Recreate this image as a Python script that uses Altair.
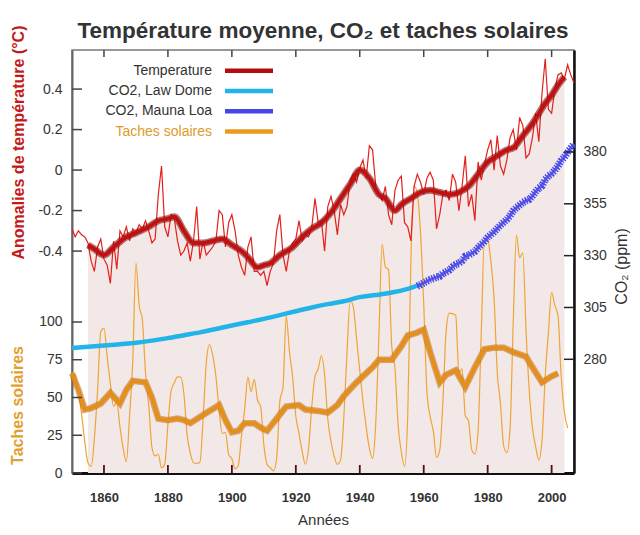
import altair as alt
import pandas as pd

# ---------------- data ----------------
temp_years = list(range(1850, 2008))
temp_annual = [
    -0.29, -0.33, -0.30, -0.32, -0.33, -0.36, -0.45, -0.50, -0.38, -0.34,
    -0.44, -0.47, -0.56, -0.35, -0.49, -0.30, -0.33, -0.28, -0.35, -0.29,
    -0.31, -0.27, -0.29, -0.25, -0.30, -0.36, -0.34, -0.12, 0.02, -0.28,
    -0.33, -0.22, -0.24, -0.35, -0.42, -0.40, -0.36, -0.45, -0.35, -0.18,
    -0.44, -0.35, -0.42, -0.40, -0.38, -0.35, -0.20, -0.22, -0.38, -0.26,
    -0.22, -0.30, -0.42, -0.48, -0.52, -0.38, -0.33, -0.50, -0.50, -0.52,
    -0.50, -0.57, -0.50, -0.46, -0.30, -0.22, -0.42, -0.50, -0.40, -0.36,
    -0.34, -0.25, -0.35, -0.32, -0.33, -0.28, -0.14, -0.26, -0.25, -0.40,
    -0.18, -0.13, -0.20, -0.32, -0.17, -0.22, -0.18, -0.05, -0.02, -0.06,
    0.01, 0.05, -0.04, 0.12, 0.10, -0.08, -0.12, -0.15, -0.08, -0.22,
    -0.27, -0.10, -0.05, -0.03, -0.26, -0.28, -0.35, -0.08, -0.02, -0.06,
    -0.12, -0.04, -0.01, -0.05, -0.29, -0.22, -0.12, -0.10, -0.15, -0.02,
    -0.06, -0.20, -0.08, 0.07, -0.18, -0.12, -0.25, 0.04, -0.05, 0.03,
    0.10, 0.15, 0.00, 0.17, 0.02, -0.02, 0.05, 0.16, 0.20, 0.10,
    0.26, 0.22, 0.06, 0.08, 0.16, 0.28, 0.14, 0.38, 0.55, 0.30,
    0.28, 0.40, 0.47, 0.48, 0.45, 0.52, 0.47, 0.43,
]
temp_smooth_years = [1855, 1857, 1860, 1863, 1867, 1870, 1874, 1877, 1880, 1882,
                     1885, 1888, 1891, 1894, 1897, 1900, 1903, 1905, 1908, 1910,
                     1912, 1915, 1919, 1922, 1925, 1928, 1931, 1934, 1937, 1940,
                     1943, 1946, 1948, 1951, 1953, 1956, 1959, 1962, 1965, 1968,
                     1971, 1974, 1977, 1980, 1983, 1986, 1988, 1991, 1994, 1996,
                     1998, 2000, 2002, 2004]
temp_smooth = [-0.37, -0.39, -0.42, -0.38, -0.33, -0.31, -0.28, -0.25, -0.24, -0.23,
               -0.30, -0.36, -0.36, -0.35, -0.34, -0.37, -0.40, -0.43, -0.48, -0.47,
               -0.46, -0.42, -0.38, -0.33, -0.29, -0.26, -0.21, -0.14, -0.07, 0.00,
               -0.04, -0.12, -0.14, -0.20, -0.17, -0.14, -0.11, -0.10, -0.11, -0.12,
               -0.11, -0.08, -0.02, 0.04, 0.07, 0.10, 0.11, 0.17, 0.23, 0.28,
               0.33, 0.37, 0.42, 0.46]

law_years = [1850, 1855, 1860, 1865, 1870, 1875, 1880, 1885, 1890, 1895, 1900, 1905,
             1910, 1915, 1920, 1925, 1930, 1935, 1940, 1945, 1950, 1955, 1959]
law_co2 = [285.5, 286.0, 286.6, 287.3, 288.0, 289.0, 290.2, 291.6, 293.0, 294.6, 296.3, 297.9,
           299.5, 301.3, 303.2, 305.0, 306.6, 308.0, 310.0, 311.0, 312.2, 314.0, 316.0]

mauna_years = list(range(1958, 2008))
mauna_co2 = [315.3, 315.98, 316.91, 317.64, 318.45, 318.99, 319.62, 320.04, 321.38, 322.16,
             323.04, 324.62, 325.68, 326.32, 327.45, 329.68, 330.18, 331.11, 332.04, 333.83,
             335.40, 336.84, 338.75, 340.11, 341.45, 343.05, 344.65, 346.12, 347.42, 349.19,
             351.57, 353.12, 354.39, 355.61, 356.45, 357.10, 358.83, 360.82, 362.61, 363.73,
             366.70, 368.38, 369.55, 371.14, 373.28, 375.80, 377.52, 379.80, 381.90, 383.79]

sun_years = list(range(1850, 2006))
sunspots = [
    66.5, 64.5, 54.1, 39.0, 20.6, 6.7, 4.3, 22.7, 54.8, 93.8,
    95.8, 77.2, 59.1, 44.0, 47.0, 30.5, 16.3, 7.3, 37.6, 74.0,
    139.0, 111.2, 101.6, 66.2, 44.7, 17.0, 11.3, 12.4, 3.4, 6.0,
    32.3, 54.3, 59.7, 63.7, 63.5, 52.2, 25.4, 13.1, 6.8, 6.3,
    7.1, 35.6, 73.0, 85.1, 78.0, 64.0, 41.8, 26.2, 26.7, 12.1,
    9.5, 2.7, 5.0, 24.4, 42.0, 63.5, 53.8, 62.0, 48.5, 43.9,
    18.6, 5.7, 3.6, 1.4, 9.6, 47.4, 57.1, 103.9, 80.6, 63.6,
    37.6, 26.1, 14.2, 5.8, 16.7, 44.3, 63.9, 69.0, 77.8, 64.9,
    35.7, 21.2, 11.1, 5.7, 8.7, 36.1, 79.7, 114.4, 109.6, 88.8,
    67.8, 47.5, 30.6, 16.3, 9.6, 33.2, 92.6, 151.6, 136.3, 134.7,
    83.9, 69.4, 31.5, 13.9, 4.4, 38.0, 141.7, 190.2, 184.8, 159.0,
    112.3, 53.9, 37.5, 27.9, 10.2, 15.1, 47.0, 93.8, 105.9, 105.5,
    104.5, 66.6, 68.9, 38.0, 34.5, 15.5, 12.6, 27.5, 92.5, 155.4,
    154.6, 140.4, 115.9, 66.6, 45.9, 17.9, 13.4, 29.4, 100.2, 157.6,
    142.6, 145.7, 94.3, 54.6, 29.9, 17.5, 8.6, 21.5, 64.3, 93.3,
    119.6, 111.0, 104.0, 63.7, 40.4, 29.8,
]
sun_smooth_years = [1850, 1852, 1854, 1856, 1859, 1862, 1865, 1867, 1869, 1873,
                    1875, 1877, 1880, 1883, 1885, 1887, 1890, 1893, 1896, 1898,
                    1900, 1902, 1904, 1907, 1909, 1911, 1914, 1917, 1921, 1923,
                    1927, 1930, 1933, 1935, 1939, 1942, 1944, 1946, 1950, 1953,
                    1955, 1958, 1960, 1962, 1965, 1967, 1970, 1973, 1976, 1979,
                    1982, 1985, 1988, 1992, 1994, 1997, 2000, 2002]
sun_smooth = [66, 55, 42, 43, 46, 53, 46, 55, 61, 60,
              50, 36, 35, 36, 35, 33, 37, 41, 45, 35,
              27, 28, 33, 33, 30, 28, 36, 44, 45, 42,
              41, 40, 45, 51, 60, 66, 70, 75, 75, 84,
              91, 93, 95, 80, 60, 65, 68, 57, 70, 82,
              83, 83, 80, 77, 70, 60, 64, 66]

year_ticks = [1860, 1880, 1900, 1920, 1940, 1960, 1980, 2000]
temp_ticks = [-0.4, -0.2, 0, 0.2, 0.4]
sun_ticks = [0, 25, 50, 75, 100]
co2_ticks = [280, 305, 330, 355, 380]

legend_labels = ["Temperature", "CO2, Law Dome", "CO2, Mauna Loa", "Taches solaires"]
legend_colors = ["#b50d0d", "#22b4e8", "#4646e6", "#eb9a1e"]
legend_text_colors = ["#333333", "#333333", "#333333", "#e09a2a"]

# ---------------- layout ----------------
W, H = 502, 423
FONT = "Liberation Sans"
T_MIN, T_MAX = -1.496, 0.593

df_temp = pd.DataFrame({"year": temp_years, "t": temp_annual})
df_tsm = pd.DataFrame({"year": temp_smooth_years, "t": temp_smooth})
df_tsm["base"] = T_MIN
df_law = pd.DataFrame({"year": law_years, "co2": law_co2})
df_ml = pd.DataFrame({"year": mauna_years, "co2": mauna_co2})
df_sun = pd.DataFrame({"year": sun_years, "s": sunspots})
df_ssm = pd.DataFrame({"year": sun_smooth_years, "s": sun_smooth})
df_yt = pd.DataFrame({"year": year_ticks})
df_tt = pd.DataFrame({"t": temp_ticks})
df_st = pd.DataFrame({"s": sun_ticks})
df_ct = pd.DataFrame({"co2": co2_ticks})
one = pd.DataFrame({"a": [0]})

xs = alt.Scale(domain=[1850, 2007], nice=False, zero=False)
ts = alt.Scale(domain=[T_MIN, T_MAX], nice=False, zero=False)
ss = alt.Scale(domain=[0, 280.1], nice=False, zero=False)
cs = alt.Scale(domain=[225.15, 429.2], nice=False, zero=False)

x_axis = alt.Axis(orient="bottom", values=year_ticks, format="d", ticks=False, grid=False,
                  labelPadding=18, labelFontWeight="bold", labelFontSize=13, labelColor="#333",
                  domainColor="#111", domainWidth=3, title="Années", titleFontSize=15,
                  titleFontWeight="normal", titleColor="#333", titlePadding=8)

temp_axis = alt.Axis(orient="left", values=temp_ticks, ticks=False, grid=False, labelPadding=10,
                     labelFontSize=14, labelColor="#333", domainColor="#666", domainWidth=2,
                     labelExpr="datum.value == 0 ? '0' : (datum.value < 0 ? '-' + format(-datum.value, '.1f') : format(datum.value, '.1f'))",
                     title="Anomalies de température (°C)", titleColor="#c41a1a", titleFontSize=16,
                     titleFontWeight="bold", titleX=-54, titleY=92, titleAngle=270,
                     titleBaseline="middle", titleAlign="center")

sun_axis = alt.Axis(orient="left", values=sun_ticks, format="d", ticks=False, grid=False,
                    labelPadding=10, labelFontSize=14, labelColor="#333", domain=False,
                    title="Taches solaires", titleColor="#e3a030", titleFontSize=16,
                    titleFontWeight="bold", titleX=-55, titleY=355, titleAngle=270,
                    titleBaseline="middle", titleAlign="center")

co2_axis = alt.Axis(orient="right", values=co2_ticks, format="d", ticks=False, grid=False,
                    labelPadding=9, labelFontSize=14, labelColor="#333", domainColor="#111",
                    domainWidth=2.5, title="CO₂ (ppm)", titleColor="#333", titleFontSize=16,
                    titleFontWeight="normal", titleX=47, titleY=216, titleAngle=270,
                    titleBaseline="middle", titleAlign="center")


def X():
    return alt.X("year:Q", scale=xs, axis=x_axis)


def YT(field="t"):
    return alt.Y(f"{field}:Q", scale=ts, axis=temp_axis)


def YS():
    return alt.Y("s:Q", scale=ss, axis=sun_axis)


def YC():
    return alt.Y("co2:Q", scale=cs, axis=co2_axis)


# background area under the smoothed temperature (own scale copy, no axis)
bg = alt.Chart(df_tsm).mark_area(color="#f3e8e8", interpolate="monotone").encode(
    x=X(), y=alt.Y("t:Q", scale=ts, axis=None), y2="base:Q")

# sunspots
sun_thin = alt.Chart(df_sun).mark_line(color="#f0a436", strokeWidth=1.2, interpolate="monotone").encode(
    x=X(), y=YS())
sun_thick_u = alt.Chart(df_ssm).mark_line(color="#b86a10", strokeWidth=6.5, opacity=0.55).encode(
    x=X(), y=YS())
sun_thick = alt.Chart(df_ssm).mark_line(color="#e58e1a", strokeWidth=4).encode(
    x=X(), y=YS())
sun_tk = alt.Chart(df_st).mark_rule(color="#444", strokeWidth=1.5).encode(
    y=YS(), x=alt.value(0), x2=alt.value(10))
sun_group = alt.layer(sun_thin, sun_thick_u, sun_thick, sun_tk)

# CO2
law = alt.Chart(df_law).mark_line(color="#22b4e8", strokeWidth=4.5, interpolate="monotone").encode(
    x=X(), y=YC())
ml_base = alt.Chart(df_ml).mark_line(color="#6262ee", strokeWidth=3).encode(
    x=X(), y=YC())
ml = alt.Chart(df_ml).mark_line(color="#4646e6", strokeWidth=7.5, strokeDash=[1.4, 1.3]).encode(
    x=X(), y=YC())
co2_tk = alt.Chart(df_ct).mark_rule(color="#222", strokeWidth=1.5).encode(
    y=YC(), x=alt.value(W - 10), x2=alt.value(W))
co2_group = alt.layer(law, ml_base, ml, co2_tk)

# temperature
t_thin = alt.Chart(df_temp).mark_line(color="#e3201c", strokeWidth=1.2).encode(x=X(), y=YT())
t_thick_u = alt.Chart(df_tsm).mark_line(color="#7a0000", strokeWidth=7, opacity=0.55,
                                        interpolate="monotone").encode(x=X(), y=YT())
t_thick = alt.Chart(df_tsm).mark_line(color="#c21010", strokeWidth=4,
                                      interpolate="monotone").encode(x=X(), y=YT())
t_tk = alt.Chart(df_tt).mark_rule(color="#444", strokeWidth=1.5).encode(
    y=YT(), x=alt.value(0), x2=alt.value(10))
temp_group = alt.layer(t_thin, t_thick_u, t_thick, t_tk)

# x ticks (inside, bottom and top)
xt_bottom = alt.Chart(df_yt).mark_rule(color="#4a1020", strokeWidth=1.8).encode(
    x=X(), y=alt.value(H - 8), y2=alt.value(H))
xt_top = alt.Chart(df_yt).mark_rule(color="#444", strokeWidth=1.5).encode(
    x=X(), y=alt.value(0), y2=alt.value(7))

# legend
leg = []
for i, (lab, col, tcol) in enumerate(zip(legend_labels, legend_colors, legend_text_colors)):
    yy = 20.7 + 20.3 * i
    leg.append(alt.Chart(one).mark_text(text=lab, align="right", baseline="middle", fontSize=14,
                                        color=tcol, font=FONT).encode(x=alt.value(140), y=alt.value(yy)))
    leg.append(alt.Chart(one).mark_rule(color=col, strokeWidth=4.5).encode(
        x=alt.value(153), x2=alt.value(201), y=alt.value(yy)))

chart = alt.layer(
    bg, sun_group, co2_group, temp_group, xt_bottom, xt_top, *leg
).resolve_scale(y="independent").properties(
    width=W, height=H,
    title=alt.TitleParams("Température moyenne, CO₂ et taches solaires", fontSize=22.5,
                          fontWeight="bold", color="#333", anchor="middle", frame="group",
                          baseline="alphabetic", offset=0, dy=36),
    autosize=alt.AutoSizeParams(type="none"),
    padding={"left": 64, "top": 42, "right": 58, "bottom": 54},
).configure(font=FONT).configure_view(stroke="#777", strokeWidth=1.5)

chart.save("out.html", embed_options={"renderer": "svg", "actions": False})
